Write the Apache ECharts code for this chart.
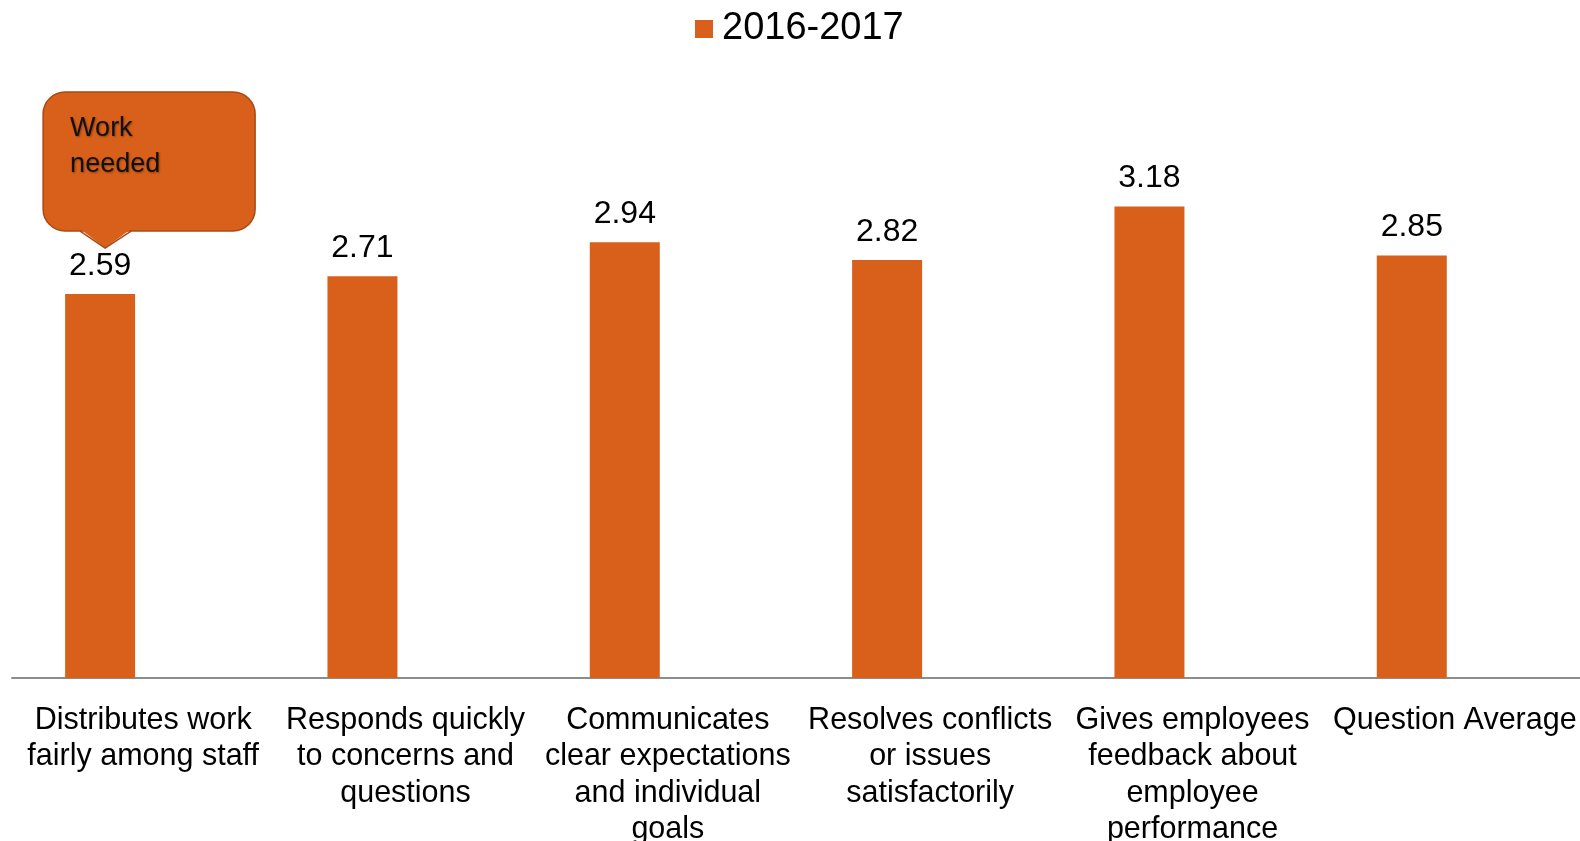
<!DOCTYPE html>
<html><head><meta charset="utf-8">
<script src="https://cdn.jsdelivr.net/npm/echarts@6/dist/echarts.min.js"></script>
<style>html,body{margin:0;padding:0;background:#fff}#c{width:1580px;height:841px}</style>
</head><body><div id="c"></div>
<script>
const categories = [
  "Distributes work fairly among staff",
  "Responds quickly to concerns and questions",
  "Communicates clear expectations and individual goals",
  "Resolves conflicts or issues satisfactorily",
  "Gives employees feedback about employee performance",
  "Question Average"
];
const seriesName = "2016-2017";
const values = [2.59, 2.71, 2.94, 2.82, 3.18, 2.85];
const emptyValues = [null, null, null, null, null, null];
const calloutText = "Work\nneeded";

const FONT = "'Liberation Sans', Arial, sans-serif";
const ORANGE = "#D9601A";
const BAR_W = 70, BAR_GAP = 0.23;
const LABEL_SIZE = 30.5, LABEL_MAX_W = 256;

// word wrap without trailing spaces (layout only)
const mctx = document.createElement('canvas').getContext('2d');
mctx.font = `${LABEL_SIZE}px ${FONT}`;
function wrap(text) {
  const words = text.split(' ');
  const lines = [];
  let cur = '';
  for (const w of words) {
    const t = cur ? cur + ' ' + w : w;
    if (cur && mctx.measureText(t).width > LABEL_MAX_W) { lines.push(cur); cur = w; }
    else cur = t;
  }
  if (cur) lines.push(cur);
  return lines.join('\n');
}

const chart = echarts.init(document.getElementById('c'));
chart.setOption({
  animation: false,
  textStyle: { fontFamily: FONT },
  legend: {
    data: [seriesName], top: 5, left: 690, icon: 'rect',
    itemWidth: 18, itemHeight: 18, itemGap: 6,
    textStyle: { fontSize: 38, color: '#000', fontFamily: FONT, padding: [0, 0, 0, 4] }
  },
  grid: { left: 12, top: 85, width: 1574, height: 593, containLabel: false, outerBoundsMode: 'none' },
  xAxis: {
    type: 'category', data: categories,
    axisLine: { lineStyle: { color: '#8c8c8c', width: 2 } },
    axisTick: { show: false },
    axisLabel: {
      interval: 0, margin: 24, color: '#000', fontSize: LABEL_SIZE, lineHeight: 36.5,
      fontFamily: FONT, formatter: v => wrap(v)
    }
  },
  yAxis: { type: 'value', min: 0, max: 4, show: false, splitLine: { show: false } },
  series: [
    {
      name: seriesName, type: 'bar', data: values, barWidth: BAR_W, barGap: (BAR_GAP * 100) + '%',
      itemStyle: { color: ORANGE },
      label: { show: true, position: 'top', distance: 12, color: '#000', fontSize: 32, fontFamily: FONT,
               formatter: p => p.value.toFixed(2) }
    },
    { name: 'blank', type: 'bar', data: emptyValues, barWidth: BAR_W, itemStyle: { color: ORANGE } }
  ]
});

// Callout anchored to the first bar
const anchor = chart.convertToPixel({ seriesIndex: 0 }, [0, values[0]]);
const bx = anchor[0] - (2 * BAR_W + BAR_GAP * BAR_W) / 2; // bar left edge
const tipX = bx + 40, tipY = anchor[1] - 46;
const L = bx - 22, R = bx + 190, T = tipY - 156, B = tipY - 17;
const STROKE = '#A84A16';
chart.setOption({
  graphic: [
    { type: 'rect', z: 10, shape: { x: L, y: T, width: R - L, height: B - T, r: 22 },
      style: { fill: ORANGE, stroke: STROKE, lineWidth: 1.5 } },
    { type: 'polygon', z: 11, shape: { points: [[tipX - 25, B - 2], [tipX + 26, B - 2], [tipX, tipY]] },
      style: { fill: ORANGE } },
    { type: 'polyline', z: 12, shape: { points: [[tipX - 25, B], [tipX, tipY], [tipX + 26, B]] },
      style: { stroke: STROKE, lineWidth: 1.5, fill: null } },
    { type: 'text', z: 13, x: L + 27, y: T + 19,
      style: { text: calloutText, font: `27px ${FONT}`, fill: '#111', lineHeight: 36,
               textShadowColor: 'rgba(0,0,0,0.35)', textShadowBlur: 2, textShadowOffsetX: 1, textShadowOffsetY: 1 } }
  ]
});
</script></body></html>
